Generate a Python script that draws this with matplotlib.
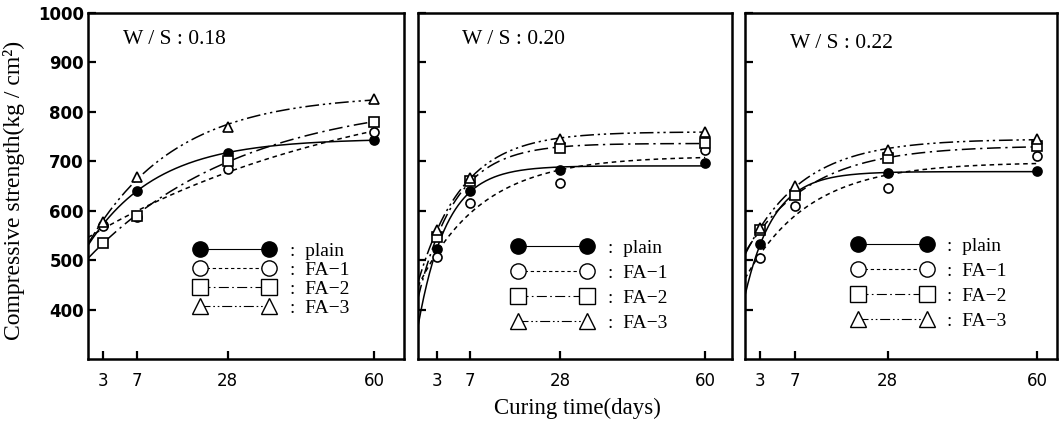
import numpy as np
import matplotlib
matplotlib.use("Agg")
import matplotlib.pyplot as plt
from matplotlib.lines import Line2D

plt.rcParams['font.family'] = ['Liberation Serif', 'DejaVu Serif']

# curing ages (days)
days = np.array([3, 7, 28, 60])
ws_labels = ['W / S : 0.18', 'W / S : 0.20', 'W / S : 0.22']
series = ['plain', 'FA−1', 'FA−2', 'FA−3']

# compressive strength (kg/cm2), one row per W/S
plain = [[572, 640, 717, 743],
         [522, 640, 682, 696],
         [532, 636, 676, 680]]
fa1 = [[570, 588, 684, 760],
       [506, 616, 656, 722],
       [504, 610, 646, 710]]
fa2 = [[535, 590, 700, 780],
       [546, 660, 726, 738],
       [560, 632, 706, 730]]
fa3 = [[578, 668, 770, 826],
       [560, 666, 746, 760],
       [565, 650, 722, 746]]
all_data = [plain, fa1, fa2, fa3]

yticks = [400, 500, 600, 700, 800, 900, 1000]

# the hand drawn time axis is not uniform: piecewise mapping of days
anc_d = np.array([3.0, 7.0, 28.0, 60.0])
anc_u = np.array([0.0, 34.0, 125.0, 272.0])
sl_left, sl_right = 8.5, 4.6


def fwd(d):
    d = np.asarray(d, dtype=float)
    return np.where(d < 3, (d - 3) * sl_left,
                    np.where(d > 60, 272 + (d - 60) * sl_right,
                             np.interp(d, anc_d, anc_u)))


def inv(u):
    u = np.asarray(u, dtype=float)
    return np.where(u < 0, 3 + u / sl_left,
                    np.where(u > 272, 60 + (u - 272) / sl_right,
                             np.interp(u, anc_u, anc_d)))


def fit_curve(u, y):
    # saturating fit y = A - B*exp(-u/L), L by grid search
    best = None
    for L in np.linspace(10, 500, 491):
        X = np.column_stack([np.ones_like(u), -np.exp(-u / L)])
        coef, res, *_ = np.linalg.lstsq(X, y, rcond=None)
        r = np.sum((X @ coef - y) ** 2)
        if best is None or r < best[0]:
            best = (r, coef, L)
    _, (A, B), L = best
    return lambda uu: A - B * np.exp(-uu / L)


styles = [
    dict(marker='o', mfc='black', ls='-'),
    dict(marker='o', mfc='white', ls=(0, (3, 2.5))),
    dict(marker='s', mfc='white', ls=(0, (9, 3, 1.5, 3))),
    dict(marker='^', mfc='white', ls=(0, (9, 2.5, 1.5, 2.5, 1.5, 2.5))),
]

W, H = 1059, 423
fig = plt.figure(figsize=(W / 100, H / 100), dpi=100)

panels = [(88, 404), (418, 732), (745, 1057)]
xlims = [(1.24, 66.5), (0.76, 65.9), (1.24, 64.2)]
leg_anchor = [(0.337, 0.338), (0.301, 0.345), (0.342, 0.352)]
leg_space = [0.07, 0.38, 0.38]
title_pos = [(123, 39), (462, 40), (790, 43)]

for i, (x0, x1) in enumerate(panels):
    ax = fig.add_axes([x0 / W, 1 - 359 / H, (x1 - x0) / W, 346 / H])
    ax.set_xscale('function', functions=(fwd, inv))
    ax.set_xlim(*xlims[i])
    ax.set_ylim(300, 1000)

    u_left = float(fwd(xlims[i][0]))
    uu = np.linspace(u_left, 272, 200)
    for k, data in enumerate(all_data):
        y = np.array(data[i], dtype=float)
        f = fit_curve(fwd(days), y)
        ax.plot(inv(uu), f(uu), color='black', lw=1.1, ls=styles[k]['ls'],
                zorder=2)
        ax.plot(days, y, ls='none', marker=styles[k]['marker'], ms=6.5,
                mfc=styles[k]['mfc'], mec='black', mew=1.2, zorder=3)

    for s in ax.spines.values():
        s.set_linewidth(1.8)
    ax.set_xticks(days)
    ax.set_xticklabels([str(d) for d in days], family='DejaVu Sans',
                       fontsize=12)
    ax.xaxis.set_minor_locator(plt.NullLocator())
    ax.set_yticks(yticks)
    ax.tick_params(direction='in', length=6, width=1.6, pad=9)
    if i == 0:
        ax.set_yticklabels([str(v) for v in yticks], family='DejaVu Sans',
                           fontweight='bold', fontsize=12)
        ax.tick_params(axis='y', pad=3)
    else:
        ax.set_yticklabels([])

    fig.text(title_pos[i][0] / W, 1 - title_pos[i][1] / H, ws_labels[i],
             fontsize=15.5, va='center', ha='left')

    handles = [Line2D([], [], color='black', lw=0.8, ls=st['ls'],
                      marker=st['marker'], mfc=st['mfc'], mec='black',
                      mew=1.0, ms=11) for st in styles]
    ax.legend(handles, [':  ' + s for s in series], loc='upper left',
              bbox_to_anchor=leg_anchor[i], frameon=False, numpoints=2,
              handlelength=4.15, handletextpad=0.75, borderpad=0,
              borderaxespad=0, labelspacing=leg_space[i], fontsize=14)

fig.text(14 / W, 1 - 190 / H, 'Compressive strength(kg / cm²)',
         rotation=90, ha='center', va='center', fontsize=17)
fig.text(577 / W, 1 - 408 / H, 'Curing time(days)', ha='center',
         va='center', fontsize=16.5)

fig.savefig('out.png', dpi=100)
